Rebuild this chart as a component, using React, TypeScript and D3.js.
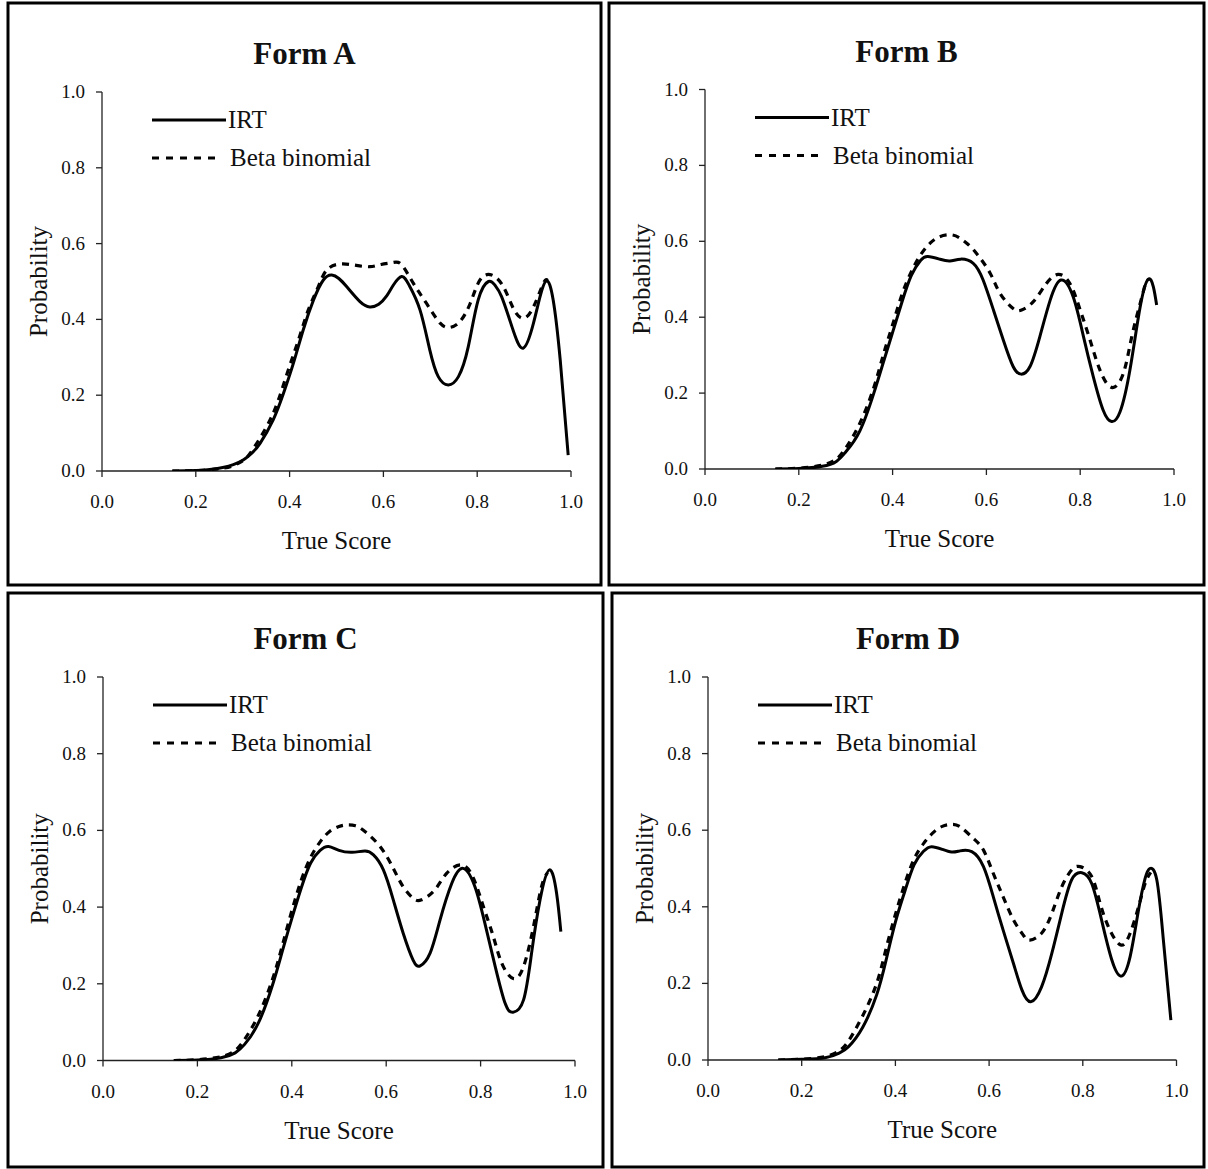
import React from "react";
import * as d3 from "d3";

// ---------- data ----------
const titles = ["Form A", "Form B", "Form C", "Form D"];
const xTicks = [0, 0.2, 0.4, 0.6, 0.8, 1.0];
const yTicks = [0, 0.2, 0.4, 0.6, 0.8, 1.0];
const seriesNames = ["IRT", "Beta binomial"];

const irtA_score = [0.15, 0.2, 0.23, 0.26, 0.28, 0.301, 0.32, 0.337, 0.365, 0.387, 0.408, 0.429, 0.451, 0.472, 0.49, 0.505, 0.522, 0.55, 0.571, 0.59, 0.607, 0.621, 0.639, 0.655, 0.678, 0.699, 0.717, 0.738, 0.76, 0.781, 0.802, 0.824, 0.838, 0.852, 0.874, 0.898, 0.92, 0.934, 0.948, 0.962, 0.977, 0.994];
const irtA_prob = [0, 0.001, 0.004, 0.01, 0.017, 0.029, 0.048, 0.073, 0.135, 0.205, 0.284, 0.372, 0.451, 0.504, 0.517, 0.508, 0.486, 0.447, 0.433, 0.44, 0.462, 0.49, 0.513, 0.49, 0.425, 0.319, 0.249, 0.227, 0.249, 0.328, 0.451, 0.5, 0.49, 0.46, 0.381, 0.324, 0.39, 0.46, 0.502, 0.451, 0.293, 0.042];
const betaA_score = [0.15, 0.2, 0.25, 0.28, 0.3, 0.316, 0.351, 0.376, 0.397, 0.419, 0.44, 0.461, 0.479, 0.507, 0.54, 0.571, 0.595, 0.62, 0.639, 0.664, 0.692, 0.721, 0.742, 0.763, 0.785, 0.806, 0.831, 0.856, 0.877, 0.898, 0.92, 0.941, 0.95];
const betaA_prob = [0, 0.001, 0.006, 0.014, 0.027, 0.047, 0.117, 0.187, 0.266, 0.346, 0.425, 0.486, 0.53, 0.546, 0.543, 0.539, 0.545, 0.55, 0.544, 0.495, 0.442, 0.39, 0.379, 0.394, 0.442, 0.504, 0.517, 0.486, 0.429, 0.403, 0.433, 0.495, 0.503];

const irtB_score = [0.15, 0.2, 0.25, 0.28, 0.3, 0.33, 0.36, 0.38, 0.4, 0.42, 0.44, 0.46, 0.475, 0.5, 0.522, 0.545, 0.572, 0.593, 0.615, 0.636, 0.657, 0.674, 0.693, 0.714, 0.736, 0.759, 0.785, 0.807, 0.828, 0.849, 0.867, 0.885, 0.906, 0.928, 0.945, 0.956, 0.963];
const irtB_prob = [0, 0.001, 0.007, 0.02, 0.045, 0.1, 0.2, 0.28, 0.36, 0.44, 0.51, 0.55, 0.56, 0.553, 0.548, 0.553, 0.542, 0.498, 0.419, 0.34, 0.27, 0.25, 0.27, 0.349, 0.445, 0.498, 0.454, 0.349, 0.243, 0.155, 0.125, 0.151, 0.261, 0.428, 0.5, 0.48, 0.432];
const betaB_score = [0.15, 0.2, 0.25, 0.28, 0.3, 0.33, 0.36, 0.38, 0.4, 0.42, 0.44, 0.46, 0.48, 0.5, 0.525, 0.544, 0.56, 0.579, 0.608, 0.629, 0.657, 0.675, 0.7, 0.728, 0.753, 0.778, 0.8, 0.821, 0.842, 0.867, 0.892, 0.91, 0.928, 0.94, 0.948];
const betaB_prob = [0, 0.002, 0.01, 0.026, 0.055, 0.12, 0.215, 0.3, 0.38, 0.46, 0.52, 0.565, 0.595, 0.612, 0.617, 0.608, 0.593, 0.568, 0.516, 0.463, 0.423, 0.419, 0.441, 0.489, 0.513, 0.489, 0.419, 0.34, 0.261, 0.215, 0.252, 0.349, 0.437, 0.49, 0.5];

const irtC_score = [0.15, 0.2, 0.25, 0.28, 0.3, 0.33, 0.36, 0.38, 0.4, 0.42, 0.44, 0.46, 0.478, 0.5, 0.528, 0.555, 0.573, 0.594, 0.615, 0.636, 0.657, 0.672, 0.693, 0.714, 0.739, 0.763, 0.788, 0.809, 0.831, 0.852, 0.869, 0.891, 0.908, 0.926, 0.946, 0.961, 0.97];
const irtC_prob = [0, 0.001, 0.007, 0.02, 0.042, 0.1, 0.2, 0.285, 0.37, 0.45, 0.515, 0.548, 0.558, 0.548, 0.543, 0.546, 0.536, 0.497, 0.419, 0.332, 0.262, 0.247, 0.28, 0.366, 0.462, 0.501, 0.453, 0.358, 0.245, 0.149, 0.126, 0.158, 0.28, 0.419, 0.497, 0.436, 0.336];
const betaC_score = [0.15, 0.2, 0.25, 0.28, 0.3, 0.33, 0.36, 0.38, 0.4, 0.42, 0.44, 0.46, 0.48, 0.5, 0.515, 0.535, 0.555, 0.587, 0.615, 0.636, 0.657, 0.675, 0.703, 0.728, 0.76, 0.785, 0.806, 0.827, 0.845, 0.869, 0.891, 0.912, 0.929, 0.942];
const betaC_prob = [0, 0.002, 0.01, 0.026, 0.055, 0.12, 0.215, 0.3, 0.39, 0.47, 0.53, 0.57, 0.597, 0.61, 0.614, 0.612, 0.597, 0.558, 0.501, 0.453, 0.423, 0.419, 0.445, 0.488, 0.51, 0.475, 0.401, 0.323, 0.253, 0.214, 0.245, 0.349, 0.453, 0.49];

const irtD_score = [0.15, 0.2, 0.25, 0.28, 0.3, 0.33, 0.36, 0.38, 0.4, 0.42, 0.44, 0.46, 0.477, 0.5, 0.52, 0.538, 0.563, 0.588, 0.609, 0.63, 0.652, 0.67, 0.689, 0.712, 0.734, 0.755, 0.776, 0.798, 0.819, 0.84, 0.862, 0.882, 0.901, 0.919, 0.933, 0.943, 0.958, 0.972, 0.988];
const irtD_prob = [0, 0.002, 0.006, 0.018, 0.035, 0.085, 0.17, 0.26, 0.36, 0.44, 0.51, 0.545, 0.557, 0.55, 0.543, 0.546, 0.544, 0.505, 0.426, 0.339, 0.252, 0.183, 0.152, 0.191, 0.279, 0.383, 0.47, 0.489, 0.461, 0.366, 0.261, 0.219, 0.27, 0.392, 0.474, 0.5, 0.47, 0.313, 0.104];
const betaD_score = [0.15, 0.2, 0.25, 0.28, 0.3, 0.33, 0.36, 0.38, 0.4, 0.42, 0.44, 0.46, 0.48, 0.5, 0.518, 0.538, 0.566, 0.588, 0.609, 0.63, 0.652, 0.673, 0.687, 0.712, 0.734, 0.755, 0.776, 0.794, 0.819, 0.837, 0.858, 0.882, 0.901, 0.919, 0.933, 0.945];
const betaD_prob = [0, 0.002, 0.009, 0.024, 0.05, 0.115, 0.2, 0.29, 0.38, 0.46, 0.525, 0.565, 0.593, 0.61, 0.615, 0.609, 0.579, 0.548, 0.487, 0.426, 0.366, 0.326, 0.313, 0.331, 0.383, 0.452, 0.496, 0.505, 0.479, 0.409, 0.339, 0.3, 0.331, 0.4, 0.461, 0.49];

// ---------- layout ----------
const layouts = [
  { box: [8, 3, 601, 585], plot: [102, 571, 92, 471] },
  { box: [609, 3, 1204, 585], plot: [705, 1174, 89.5, 469] },
  { box: [8, 593, 603, 1167], plot: [103, 575, 677, 1060.5] },
  { box: [612, 593, 1204, 1167], plot: [708, 1176.5, 677, 1060] },
];

const irtScores = [irtA_score, irtB_score, irtC_score, irtD_score];
const irtProbs = [irtA_prob, irtB_prob, irtC_prob, irtD_prob];
const betaScores = [betaA_score, betaB_score, betaC_score, betaD_score];
const betaProbs = [betaA_prob, betaB_prob, betaC_prob, betaD_prob];

const FONT = "'Liberation Serif', 'Times New Roman', serif";
const INK = "#111";

function Panel({ i }: { i: number }) {
  const { box, plot } = layouts[i];
  const [bx0, by0, bx1, by1] = box;
  const [pl, pr, pt, pb] = plot;
  const x = d3.scaleLinear().domain([0, 1]).range([pl, pr]);
  const y = d3.scaleLinear().domain([0, 1]).range([pb, pt]);
  const line = d3
    .line<[number, number]>()
    .x((d) => x(d[0]))
    .y((d) => y(d[1]))
    .curve(d3.curveNatural);
  const irt = irtScores[i].map((s, k) => [s, irtProbs[i][k]] as [number, number]);
  const beta = betaScores[i].map((s, k) => [s, betaProbs[i][k]] as [number, number]);
  const cx = (bx0 + bx1) / 2;
  const clipId = "clip" + i;
  return (
    <g>
      <defs>
        <clipPath id={clipId}>
          <rect x={pl - 5} y={pt - 5} width={pr - pl + 10} height={pb - pt + 5} />
        </clipPath>
      </defs>
      <rect x={bx0} y={by0} width={bx1 - bx0} height={by1 - by0} fill="white" stroke="#000" strokeWidth={3} />
      <text x={cx} y={pt - 28} textAnchor="middle" fontFamily={FONT} fontWeight="bold" fontSize={31} fill={INK}>
        {titles[i]}
      </text>
      {/* axes */}
      <line x1={pl} x2={pl} y1={pt} y2={pb} stroke="#222" strokeWidth={1.3} />
      <line x1={pl} x2={pr} y1={pb} y2={pb} stroke="#222" strokeWidth={1.3} />
      {yTicks.map((t) => (
        <g key={"y" + t}>
          <line x1={pl - 6} x2={pl} y1={y(t)} y2={y(t)} stroke="#222" strokeWidth={1.3} />
          <text x={pl - 17} y={y(t) + 6} textAnchor="end" fontFamily={FONT} fontSize={19} fill={INK}>
            {t.toFixed(1)}
          </text>
        </g>
      ))}
      {xTicks.map((t) => (
        <g key={"x" + t}>
          <line x1={x(t)} x2={x(t)} y1={pb} y2={pb + 6} stroke="#222" strokeWidth={1.3} />
          <text x={x(t)} y={pb + 37} textAnchor="middle" fontFamily={FONT} fontSize={19} fill={INK}>
            {t.toFixed(1)}
          </text>
        </g>
      ))}
      <text
        transform={`translate(${pl - 55},${(pt + pb) / 2}) rotate(-90)`}
        textAnchor="middle"
        fontFamily={FONT}
        fontSize={25}
        fill={INK}
      >
        Probability
      </text>
      <text x={(pl + pr) / 2} y={pb + 78} textAnchor="middle" fontFamily={FONT} fontSize={25} fill={INK}>
        True Score
      </text>
      {/* legend */}
      <line x1={pl + 50} x2={pl + 124} y1={pt + 28} y2={pt + 28} stroke="#000" strokeWidth={3} />
      <text x={pl + 126} y={pt + 36} fontFamily={FONT} fontSize={25} fill={INK}>
        {seriesNames[0]}
      </text>
      <line x1={pl + 50} x2={pl + 118} y1={pt + 66} y2={pt + 66} stroke="#000" strokeWidth={3} strokeDasharray="7,7" />
      <text x={pl + 128} y={pt + 74} fontFamily={FONT} fontSize={25} fill={INK}>
        {seriesNames[1]}
      </text>
      {/* curves */}
      <g clipPath={`url(#${clipId})`}>
        <path d={line(beta) || ""} fill="none" stroke="#000" strokeWidth={3.2} strokeDasharray="7,6" />
        <path d={line(irt) || ""} fill="none" stroke="#000" strokeWidth={3} />
      </g>
    </g>
  );
}

export default function App() {
  return (
    <svg
      width={1208}
      height={1169}
      viewBox="0 0 1208 1169"
      style={{ position: "absolute", left: 0, top: 0, background: "white" }}
    >
      <rect x={0} y={0} width={1208} height={1169} fill="white" />
      {titles.map((_, i) => (
        <Panel key={i} i={i} />
      ))}
    </svg>
  );
}
